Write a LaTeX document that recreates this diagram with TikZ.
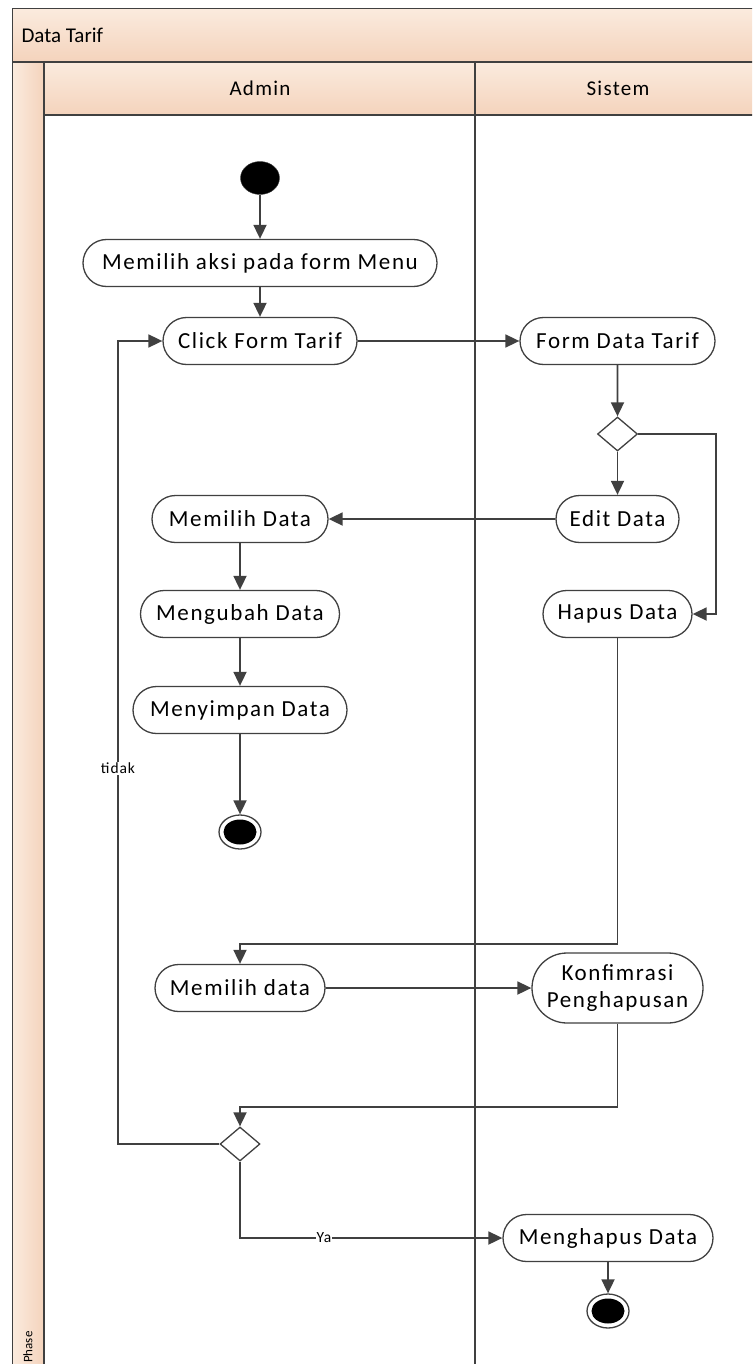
\documentclass[tikz,border=0pt]{standalone}
\usepackage{fontspec}
\setmainfont{Carlito}
\usetikzlibrary{arrows.meta,shapes.geometric,shapes.misc}
\definecolor{lc}{HTML}{404040}
\definecolor{pk1}{HTML}{FBEBDE}
\definecolor{pk2}{HTML}{F4D3BC}
\newcommand\nfont{\fontsize{23}{27}\selectfont\addfontfeature{LetterSpace=7}}
\newcommand\hfont{\fontsize{21}{25}\selectfont\addfontfeature{LetterSpace=6}}
\newcommand\tfont{\fontsize{21}{25}\selectfont}
\newcommand\lfont{\fontsize{15.5}{18}\selectfont\addfontfeature{LetterSpace=6}}
\begin{document}
\begin{tikzpicture}[x=1pt,y=-1pt,
  act/.style={draw=lc, line width=1.3pt, rounded rectangle, fill=white,
    minimum height=47pt, inner sep=0pt, font=\nfont, align=center},
  dec/.style={draw=lc, line width=1.3pt, diamond, fill=white,
    minimum width=40pt, minimum height=34pt, inner sep=0pt},
  startnode/.style={draw=lc, fill=black, ellipse, minimum width=39pt, minimum height=33pt, inner sep=0pt},
  endnode/.style={draw=lc, line width=1.3pt, fill=white, ellipse, minimum width=42pt, minimum height=34pt, inner sep=0pt,
    path picture={\fill[black] (path picture bounding box.center) ellipse (16.5pt and 12.5pt);}},
  arr/.style={draw=lc, line width=1.8pt, -{Triangle[length=14pt,width=13pt]}},
  lbl/.style={fill=white, inner sep=1pt, font=\lfont},
  frame/.style={draw=lc, line width=1.3pt}
]
\useasboundingbox (0,0) rectangle (752,1364);
\clip (0,0) rectangle (752,1364);
% swimlane frame
\shade[top color=pk1, bottom color=pk2] (12.5,8.5) rectangle (770,62);
\shade[top color=pk1, bottom color=pk2] (44,62) rectangle (770,115);
\shade[left color=pk1, right color=pk2] (12.5,62) rectangle (44,1380);
\draw[frame] (12.5,8.5) rectangle (770,1380);
\draw[frame] (12.5,62) -- (770,62);
\draw[frame] (44,62) -- (44,1380);
\draw[frame] (44,115) -- (770,115);
\draw[frame] (475,62) -- (475,1380);
\node[anchor=west, font=\tfont] (title) at (18,35) {Data Tarif};
\node[font=\hfont] (adm) at (260,88) {Admin};
\node[font=\hfont] (sis) at (618,88) {Sistem};
\node[rotate=90, anchor=west, font=\fontsize{13}{15}\selectfont, inner sep=1pt] (phase) at (28,1364) {Phase};

% nodes
\node[startnode] (start) at (260,178) {};
\node[act, minimum width=354pt] (menu) at (260,263) {Memilih aksi pada form Menu};
\node[act, minimum width=194pt] (click) at (260,341) {Click Form Tarif};
\node[act, minimum width=195pt] (formdt) at (617.5,341) {Form Data Tarif};
\node[dec] (dec1) at (617.5,434) {};
\node[act, minimum width=123pt] (edit) at (617.5,519) {Edit Data};
\node[act, minimum width=149pt] (hapus) at (617.5,614) {Hapus Data};
\node[act, minimum width=176pt] (pilih) at (240,519) {Memilih Data};
\node[act, minimum width=199pt] (ubah) at (240,614) {Mengubah Data};
\node[act, minimum width=214pt] (simpan) at (240,710) {Menyimpan Data};
\node[endnode] (end1) at (240,832) {};
\node[act, minimum width=170pt] (pilih2) at (240,988) {Memilih data};
\node[act, minimum width=171pt, minimum height=70pt] (konf) at (617.5,988) {Konfimrasi\\Penghapusan};
\node[dec] (dec2) at (240,1144) {};
\node[act, minimum width=210pt] (hapusd) at (608,1238) {Menghapus Data};
\node[endnode] (end2) at (608,1311) {};

% helper coordinates
\coordinate (c1) at (716,434);
\coordinate (c2) at (617.5,944);
\coordinate (c3) at (617.5,1107);
\coordinate (c4) at (118,1144);
\coordinate (c6) at (118,341);
\coordinate (c5) at (240,1238);

% connectors
\draw[arr] (start) -- (menu);
\draw[arr] (menu) -- (click);
\draw[arr] (click) -- (formdt);
\draw[arr] (formdt) -- (dec1);
\draw[arr] (dec1) -- (edit);
\draw[arr] (dec1.east) -- (c1) |- (hapus.east);
\draw[arr] (edit) -- (pilih);
\draw[arr] (pilih) -- (ubah);
\draw[arr] (ubah) -- (simpan);
\draw[arr] (simpan) -- (end1);
\draw[arr] (hapus.south) -- (c2) -| (pilih2.north);
\draw[arr] (pilih2) -- (konf);
\draw[arr] (konf.south) -- (c3) -| (dec2.north);
\draw[arr] (dec2.west) -- (c4) -- node[lbl, pos=0.468] {tidak} (c6) -- (click.west);
\draw[arr] (dec2.south) -- (c5) -- node[lbl, pos=0.32] {Ya} (hapusd.west);
\draw[arr] (hapusd) -- (end2);
\end{tikzpicture}
\end{document}
